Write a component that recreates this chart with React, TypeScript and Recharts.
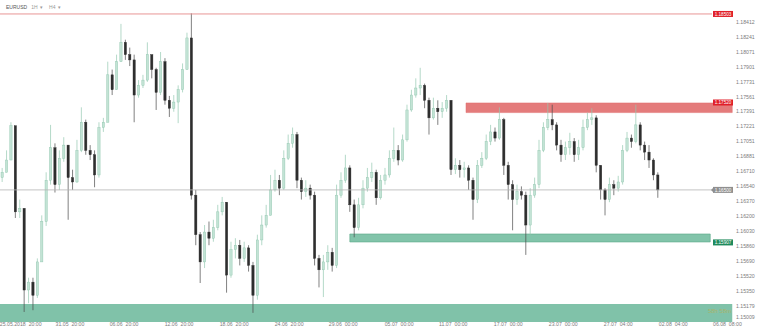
import { ComposedChart, Bar, XAxis, YAxis, ReferenceLine, ReferenceArea } from 'recharts';

// EURUSD H4, one candle per 8h
const firstOpen = 1.1664;

const closes = [
  1.1670, 1.1684, 1.1723, 1.1625, 1.1629, 1.1536, 1.1545, 1.1530, 1.1568, 1.1614,
  1.1661, 1.1698, 1.1656, 1.1686, 1.1701, 1.1664, 1.1659, 1.1695, 1.1727, 1.1695,
  1.1690, 1.1667, 1.1721, 1.1727, 1.1781, 1.1764, 1.1796, 1.1818, 1.1804, 1.1798,
  1.1758, 1.1769, 1.1775, 1.1804, 1.1787, 1.1761, 1.1796, 1.1752, 1.1743, 1.1750,
  1.1764, 1.1787, 1.1823, 1.1644, 1.1599, 1.1568, 1.1602, 1.1595, 1.1607, 1.1625,
  1.1636, 1.1553, 1.1582, 1.1587, 1.1572, 1.1584, 1.1564, 1.1530, 1.1593, 1.1610,
  1.1621, 1.1650, 1.1661, 1.1652, 1.1686, 1.1703, 1.1713, 1.1661, 1.1648, 1.1652,
  1.1644, 1.1572, 1.1559, 1.1568, 1.1579, 1.1564, 1.1644, 1.1661, 1.1675, 1.1633,
  1.1607, 1.1633, 1.1652, 1.1664, 1.1670, 1.1641, 1.1661, 1.1667, 1.1686, 1.1695,
  1.1684, 1.1707, 1.1741, 1.1758, 1.1766, 1.1769, 1.1752, 1.1732, 1.1743, 1.1739,
  1.1743, 1.1752, 1.1673, 1.1678, 1.1673, 1.1675, 1.1661, 1.1639, 1.1678, 1.1686,
  1.1705, 1.1716, 1.1709, 1.1730, 1.1678, 1.1656, 1.1639, 1.1648, 1.1644, 1.1610,
  1.1644, 1.1656, 1.1695, 1.1721, 1.1730, 1.1724, 1.1701, 1.1690, 1.1698, 1.1705,
  1.1690, 1.1698, 1.1721, 1.1730, 1.1732, 1.1678, 1.1650, 1.1639, 1.1656, 1.1652,
  1.1659, 1.1695, 1.1709, 1.1705, 1.1724, 1.1701, 1.1693, 1.1684, 1.1667, 1.1650,
];

const highs = [
  1.1675, 1.1695, 1.1727, 1.1723, 1.1639, 1.1629, 1.1550, 1.1550, 1.1572, 1.1621,
  1.1670, 1.1724, 1.1703, 1.1695, 1.1710, 1.1701, 1.1673, 1.1707, 1.1744, 1.1730,
  1.1701, 1.1695, 1.1727, 1.1732, 1.1796, 1.1787, 1.1804, 1.1839, 1.1821, 1.1812,
  1.1804, 1.1775, 1.1781, 1.1818, 1.1804, 1.1789, 1.1807, 1.1800, 1.1757, 1.1758,
  1.1769, 1.1794, 1.1829, 1.1851, 1.1650, 1.1602, 1.1610, 1.1614, 1.1616, 1.1633,
  1.1642, 1.1636, 1.1591, 1.1595, 1.1593, 1.1591, 1.1587, 1.1568, 1.1599, 1.1621,
  1.1633, 1.1667, 1.1673, 1.1667, 1.1695, 1.1713, 1.1721, 1.1716, 1.1664, 1.1661,
  1.1656, 1.1648, 1.1576, 1.1576, 1.1587, 1.1584, 1.1656, 1.1670, 1.1690, 1.1678,
  1.1639, 1.1641, 1.1661, 1.1675, 1.1681, 1.1673, 1.1667, 1.1675, 1.1695, 1.1721,
  1.1701, 1.1713, 1.1747, 1.1764, 1.1777, 1.1789, 1.1771, 1.1755, 1.1755, 1.1752,
  1.1750, 1.1758, 1.1752, 1.1686, 1.1684, 1.1682, 1.1678, 1.1664, 1.1684, 1.1693,
  1.1713, 1.1724, 1.1721, 1.1744, 1.1732, 1.1682, 1.1661, 1.1656, 1.1654, 1.1648,
  1.1652, 1.1664, 1.1707, 1.1727, 1.1749, 1.1747, 1.1727, 1.1707, 1.1705, 1.1715,
  1.1709, 1.1707, 1.1730, 1.1738, 1.1743, 1.1735, 1.1678, 1.1652, 1.1664, 1.1661,
  1.1666, 1.1701, 1.1716, 1.1713, 1.1747, 1.1727, 1.1705, 1.1701, 1.1686, 1.1670,
];

const lows = [
  1.1659, 1.1670, 1.1684, 1.1618, 1.1618, 1.1511, 1.1521, 1.1513, 1.1527, 1.1568,
  1.1609, 1.1656, 1.1647, 1.1650, 1.1682, 1.1616, 1.1650, 1.1658, 1.1693, 1.1690,
  1.1684, 1.1653, 1.1664, 1.1716, 1.1727, 1.1758, 1.1764, 1.1796, 1.1798, 1.1791,
  1.1727, 1.1755, 1.1766, 1.1773, 1.1777, 1.1741, 1.1758, 1.1747, 1.1733, 1.1739,
  1.1726, 1.1761, 1.1787, 1.1639, 1.1587, 1.1544, 1.1561, 1.1587, 1.1591, 1.1604,
  1.1621, 1.1533, 1.1550, 1.1572, 1.1564, 1.1568, 1.1557, 1.1510, 1.1525, 1.1587,
  1.1607, 1.1621, 1.1648, 1.1644, 1.1650, 1.1684, 1.1698, 1.1652, 1.1639, 1.1642,
  1.1639, 1.1564, 1.1539, 1.1528, 1.1559, 1.1557, 1.1561, 1.1641, 1.1658, 1.1625,
  1.1596, 1.1604, 1.1629, 1.1648, 1.1659, 1.1633, 1.1639, 1.1656, 1.1664, 1.1682,
  1.1678, 1.1682, 1.1705, 1.1739, 1.1755, 1.1758, 1.1743, 1.1713, 1.1730, 1.1724,
  1.1732, 1.1739, 1.1667, 1.1668, 1.1664, 1.1664, 1.1650, 1.1616, 1.1635, 1.1675,
  1.1684, 1.1701, 1.1705, 1.1707, 1.1667, 1.1639, 1.1604, 1.1633, 1.1639, 1.1576,
  1.1599, 1.1641, 1.1652, 1.1693, 1.1718, 1.1718, 1.1695, 1.1682, 1.1684, 1.1690,
  1.1682, 1.1684, 1.1695, 1.1718, 1.1724, 1.1670, 1.1639, 1.1621, 1.1636, 1.1644,
  1.1648, 1.1656, 1.1693, 1.1698, 1.1703, 1.1695, 1.1684, 1.1675, 1.1661, 1.1641,
];

const timeTicks = [4.2, 15.4, 27.7, 40.2, 52.7, 65.2, 77.5, 90.2, 102.5, 115.0, 127.5, 140.0, 152.5, 161.3];
const timeLabels = [
  '25.05.2018  20:00', '31.05  20:00', '06.06  20:00', '12.06  20:00', '18.06  20:00',
  '24.06  20:00', '29.06  00:00', '05.07  00:00', '11.07  00:00', '17.07  00:00',
  '23.07  00:00', '27.07  04:00', '02.08  04:00', '06.08  08:00',
];

const priceTicks = [
  1.18412, 1.18241, 1.18071, 1.17901, 1.17731, 1.17561, 1.17391, 1.17221, 1.17051, 1.16881,
  1.1671, 1.1654, 1.1637, 1.162, 1.1603, 1.1586, 1.1569, 1.1552, 1.1535, 1.15179, 1.15009,
];

const highLine = 1.18503;
const lastPrice = 1.165;
const redZone = [1.1738, 1.1749];
const redZoneTag = 1.17495;
const greenZone = [1.15907, 1.15998];
const greenZoneTag = 1.15902;
const baseZone = [1.14996, 1.15201];

const data = closes.map((c, i) => ({
  i,
  open: i === 0 ? firstOpen : closes[i - 1],
  close: c,
  high: highs[i],
  low: lows[i],
  range: [lows[i], highs[i]],
}));

const font = '"Liberation Sans", Arial, sans-serif';

function Candle(props: any) {
  const { x, y, width, height, payload } = props;
  const top = Math.min(y, y + height);
  const h = Math.abs(height);
  const { open, close, high, low } = payload;
  const toY = (p: number) => top + ((high - p) / (high - low || 1)) * h;
  const up = close >= open;
  const yo = toY(open);
  const yc = toY(close);
  const cx = x + width / 2;
  return (
    <g>
      <line x1={cx} x2={cx} y1={top} y2={top + h} stroke={up ? '#93c8b0' : '#4a4a4a'} strokeWidth={0.7} />
      <rect
        x={x}
        y={Math.min(yo, yc)}
        width={width}
        height={Math.max(Math.abs(yc - yo), 0.8)}
        fill={up ? '#c3e3d5' : '#2e2e2e'}
        stroke={up ? '#8cc4ab' : '#2e2e2e'}
        strokeWidth={0.4}
      />
    </g>
  );
}

function Tag(props: any) {
  const { viewBox, text, fill, arrow } = props;
  if (!viewBox) return null;
  const left = viewBox.x + viewBox.width + 1;
  const y = viewBox.y;
  return (
    <g>
      {arrow && <polygon points={`${left - 2},${y} ${left + 1},${y - 3} ${left + 1},${y + 3}`} fill={fill} />}
      <rect x={left} y={y - 3} width={20} height={6} fill={fill} />
      <text x={left + 10} y={y + 1.7} fontSize={4.6} fill="#fff" textAnchor="middle" fontFamily={font}>
        {text}
      </text>
    </g>
  );
}

function ZoneText(props: any) {
  const { viewBox } = props;
  if (!viewBox) return null;
  return (
    <text
      x={viewBox.x + viewBox.width - 1}
      y={viewBox.y + 9}
      fontSize={6}
      fill="#a8b46c"
      textAnchor="end"
      fontFamily={font}
    >
      58h 58m
    </text>
  );
}

function TimeTick(props: any) {
  const { x, payload, index } = props;
  const last = index === timeTicks.length - 1;
  return (
    <text
      x={last ? x + 1 : x}
      y={326}
      fontSize={5.2}
      fill="#7d7d7d"
      textAnchor={last ? 'start' : 'middle'}
      fontFamily={font}
      style={{ whiteSpace: 'pre' }}
    >
      {timeLabels[timeTicks.indexOf(payload.value)]}
    </text>
  );
}

function PriceTick(props: any) {
  const { x, y, payload } = props;
  const isBottom = payload.value === priceTicks[priceTicks.length - 1];
  return (
    <text
      x={x + 24}
      y={(isBottom ? y - 4 : y) + 1.8}
      fontSize={5.2}
      fill="#7d7d7d"
      textAnchor="start"
      fontFamily={font}
    >
      {payload.value.toFixed(5)}
    </text>
  );
}

export default function App() {
  return (
    <div style={{ position: 'absolute', left: 0, top: 0, width: 760, height: 331, background: '#fff' }}>
      <div
        style={{
          position: 'absolute',
          left: 6,
          top: 4,
          fontSize: 5,
          fontFamily: font,
          color: '#9a9a9a',
          zIndex: 2,
          whiteSpace: 'pre',
        }}
      >
        <span style={{ color: '#555' }}>EURUSD</span>
        {'   1H  ▾    H4  ▾'}
      </div>
      <ComposedChart width={760} height={331} data={data} margin={{ top: 0, right: 0, bottom: 0, left: 0 }}>
        <XAxis
          dataKey="i"
          type="number"
          domain={[-0.5, 161.3]}
          ticks={timeTicks}
          interval={0}
          height={9}
          axisLine={false}
          tickLine={false}
          tick={<TimeTick />}
        />
        <YAxis
          orientation="right"
          width={48}
          domain={[1.14996, 1.18662]}
          ticks={priceTicks}
          interval={0}
          axisLine={false}
          tickLine={false}
          tickSize={0}
          tickMargin={0}
          tick={<PriceTick />}
          allowDataOverflow
        />
        <ReferenceArea
          x1={-0.5}
          x2={165.9}
          y1={baseZone[0]}
          y2={baseZone[1]}
          fill="#80c2a9"
          fillOpacity={1}
          stroke="none"
          ifOverflow="visible"
          label={<ZoneText />}
        />
        <ReferenceArea
          x1={79.0}
          x2={160.9}
          y1={greenZone[0]}
          y2={greenZone[1]}
          fill="#82c4aa"
          fillOpacity={1}
          stroke="#5aa888"
          strokeWidth={0.6}
          ifOverflow="visible"
        />
        <ReferenceArea
          x1={105.4}
          x2={165.9}
          y1={redZone[0]}
          y2={redZone[1]}
          fill="#e47b7b"
          fillOpacity={1}
          stroke="#e06a6a"
          strokeWidth={0.5}
          ifOverflow="visible"
        />
        <ReferenceLine y={highLine} stroke="#e58a8a" strokeWidth={0.9} label={<Tag text="1.18503" fill="#e0202a" />} />
        <ReferenceLine y={lastPrice} stroke="#b4b4b4" strokeWidth={0.8} label={<Tag text="1.16500" fill="#8f8f8f" arrow />} />
        <ReferenceLine y={redZoneTag} stroke="none" strokeOpacity={0} label={<Tag text="1.17520" fill="#e0202a" />} />
        <ReferenceLine y={greenZoneTag} stroke="none" strokeOpacity={0} label={<Tag text="1.15907" fill="#1f8a5c" />} />
        <Bar dataKey="range" barSize={2.3} isAnimationActive={false} shape={<Candle />} />
      </ComposedChart>
    </div>
  );
}
